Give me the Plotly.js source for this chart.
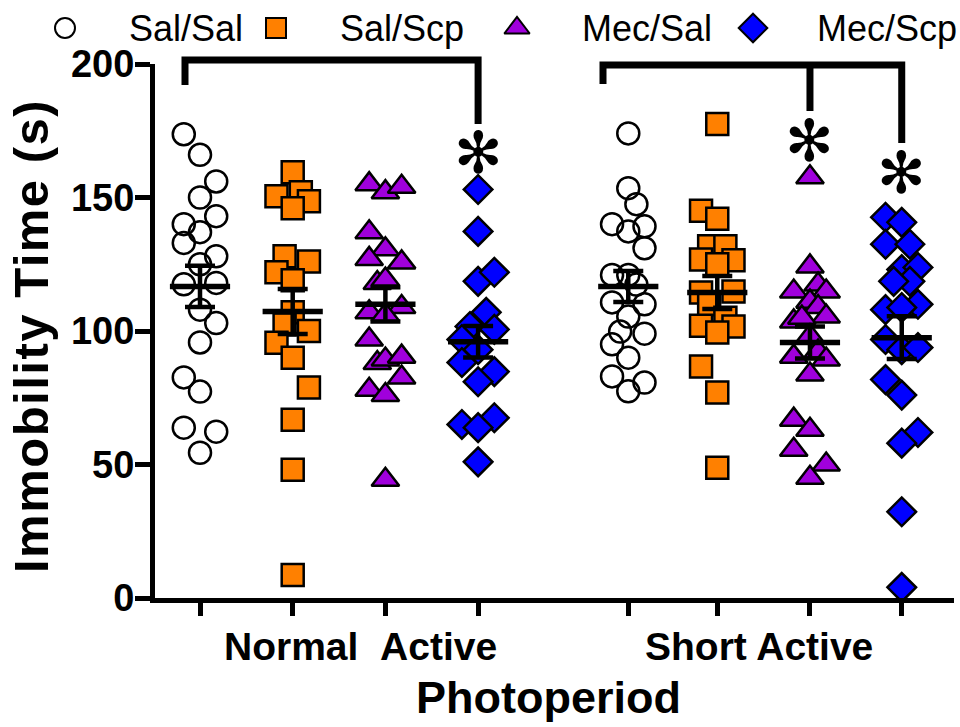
<!DOCTYPE html>
<html><head><meta charset="utf-8">
<script src="https://cdn.plot.ly/plotly-3.0.1.min.js"></script>
<style>html,body{margin:0;padding:0;background:#fff}#chart{width:960px;height:727px}</style>
</head><body><div id="chart"></div>
<script>
// ---------------- data ----------------
const photoperiodLabels = ['Normal\u00a0\u00a0Active', 'Short Active'];
const seriesNames = ['Sal/Sal', 'Sal/Scp', 'Mec/Sal', 'Mec/Scp'];
const yTickValues = [0, 50, 100, 150, 200];

// Sal/Sal
const salSalNormal    = [173.7,166,156,150,143,140,137,133,128,125,117.5,118,108,103,95.7,82.6,77.3,63.8,62.3,54.4];
const salSalNormalCol = [-1,0,1,0,1,-1,0,-1,1,0,-1,1,0,1,0,-1,0,-1,1,0];
const salSalShort     = [174,153.5,147.5,140,139.2,137.3,131,121,121,117.4,110.7,110,105.4,99.8,99,95,90,83,80.7,77.4];
const salSalShortCol  = [0,0,0.5,-1,1,0,1,-1,0,0.5,-1,1,0,-0.5,1,-1,0,-1,1,0];
// Sal/Scp
const salScpNormal    = [159.5,150.5,152,148.6,146,128,126,122,119,107,102.4,100,95.6,90,78.8,66.8,48,8.6];
const salScpNormalCol = [0,-1,0.5,1,0,-0.5,1,-1,0,0,-0.5,1,-1,0,1,0,0,0];
const salScpShort     = [177.5,145,142,131.7,131.7,126.8,126.5,125,114.4,114.8,110,105,102,101.7,99.4,86.7,77,48.8];
const salScpShortCol  = [0,-1,0,-0.5,0.5,-1,1,0,-1,1,-0.5,0.5,-1,1,0,-1,0,0];
// Mec/Sal
const mecSalNormal    = [155,152,154,137,130.6,127,125.7,118,119.3,109,107,106,96.8,88,89.3,90.4,82.6,78,76,44.3];
const mecSalNormalCol = [-1,0,1,-1,0,-1,1,-0.5,0,1,-1,0,-1,-0.5,0,1,1,-1,0,0];
const mecSalShort     = [157.6,124.2,117.4,114.8,114.8,111,109,105.4,103.6,105,98,90.4,92.3,89.3,83.7,66.8,63,55.5,50,45];
const mecSalShortCol  = [0,0,0.5,-1,1,0,0.5,1,-1,-0.5,0,-1,0.5,1,0,-1,0,-1,1,0];
// Mec/Scp
const mecScpNormal    = [153,137.3,118.6,122,107,101.7,100.6,96.8,93,88.2,84.8,81,67.5,65,63.8,51];
const mecScpNormalCol = [0,0,0,1,0.5,-0.5,1,-1,0,-1,1,0,1,-1,0,0];
const mecScpShort     = [142.6,140.7,132.5,132.5,123,123.8,118.6,118.6,108,110,108.8,96.8,93,93.8,81.8,76,62,58,32.3,4];
const mecScpShortCol  = [-1,0,-1,0.5,0,1,0.5,-0.5,-1,1,0,-1,0,1,-1,0,1,0,0,0];

// group order: NA Sal/Sal, NA Sal/Scp, NA Mec/Sal, NA Mec/Scp, SA Sal/Sal, SA Sal/Scp, SA Mec/Sal, SA Mec/Scp
const groupMeans = [116.7,107.3,110,96,116.7,114.4,95.7,97.5];
const groupSEMs  = [7.7,8.4,6.4,5.9,5.8,6.2,6.0,8.0];
const significantGroups = [3,6,7];
const asteriskValues = [166.5,171,159];

// ---------------- layout constants ----------------
const W = 960, H = 727;
const groupPositions = [0,1,2,3,4.62,5.58,6.58,7.57];
const jitterStep = 0.175;
const px = v => v / W;            // pixel x -> paper
const py = v => 1 - v / H;        // pixel y -> paper
const FONT = 'Liberation Sans, Arial, sans-serif';

const seriesData = [
  [salSalNormal, salSalNormalCol, salSalShort, salSalShortCol],
  [salScpNormal, salScpNormalCol, salScpShort, salScpShortCol],
  [mecSalNormal, mecSalNormalCol, mecSalShort, mecSalShortCol],
  [mecScpNormal, mecScpNormalCol, mecScpShort, mecScpShortCol]
];
const markerStyles = [
  {symbol:'circle', size:22, color:'rgba(0,0,0,0)', line:{color:'#000', width:2.5}},
  {symbol:'square', size:22, color:'#ff8000', line:{color:'#000', width:2.5}},
  {symbol:'triangle-up', size:24, color:'#a000dc', line:{color:'#000', width:2.5}},
  {symbol:'diamond', size:22, color:'#0000ff', line:{color:'#000', width:2.5}}
];

const traces = [];
seriesData.forEach((d, s) => {
  const [nVals, nCol, sVals, sCol] = d;
  const xs = nCol.map(c => groupPositions[s] + c * jitterStep)
    .concat(sCol.map(c => groupPositions[s + 4] + c * jitterStep));
  traces.push({
    type:'scatter', mode:'markers', name:seriesNames[s], showlegend:false,
    x: xs, y: nVals.concat(sVals), marker: markerStyles[s], cliponaxis:false,
    xaxis:'x', yaxis:'y'
  });
});
// mean ± SEM
traces.push({
  type:'scatter', mode:'markers', showlegend:false, cliponaxis:false,
  x: groupPositions, y: groupMeans,
  marker:{symbol:'line-ew', size:43, line:{color:'#000', width:5.5}},
  error_y:{type:'data', array:groupSEMs, visible:true, color:'#000', thickness:4.5, width:15}
});
// legend keys (manual legend on overlay axis in pixel units)
const legendKeyX = [65, 276, 517, 753];
const legendTextX = [127, 338, 580, 815];
seriesNames.forEach((n, s) => {
  const m = Object.assign({}, markerStyles[s]);
  m.size = s === 3 ? 22 : (s === 2 ? 22 : 20);
  m.line = {color:'#000', width:2};
  traces.push({type:'scatter', mode:'markers', showlegend:false, x:[legendKeyX[s]], y:[28],
    marker:m, xaxis:'x2', yaxis:'y2', cliponaxis:false});
});

const annotations = [];
seriesNames.forEach((n, s) => annotations.push({
  xref:'paper', yref:'paper', x:px(legendTextX[s]), y:py(29), xanchor:'left', yanchor:'middle',
  text:n, showarrow:false, font:{family:FONT, size:36, color:'#000'}
}));
annotations.push({xref:'paper', yref:'paper', x:px(360), y:py(646), xanchor:'center', yanchor:'middle',
  text:'<b>'+photoperiodLabels[0]+'</b>', showarrow:false, font:{family:FONT, size:39, color:'#000'}});
annotations.push({xref:'paper', yref:'paper', x:px(759), y:py(646), xanchor:'center', yanchor:'middle',
  text:'<b>'+photoperiodLabels[1]+'</b>', showarrow:false, font:{family:FONT, size:39, color:'#000'}});
annotations.push({xref:'paper', yref:'paper', x:px(548), y:py(697), xanchor:'center', yanchor:'middle',
  text:'<b>Photoperiod</b>', showarrow:false, font:{family:FONT, size:45, color:'#000'}});
annotations.push({xref:'paper', yref:'paper', x:px(31), y:py(336), xanchor:'center', yanchor:'middle', textangle:-90,
  text:'<b><span style="letter-spacing:1.5px">Immobility Time (s)</span></b>', showarrow:false,
  font:{family:FONT, size:49, color:'#000'}});
significantGroups.forEach((g, i) => annotations.push({
  xref:'x', yref:'y', x:groupPositions[g], y:asteriskValues[i], xanchor:'center', yanchor:'middle',
  text:'\u273B', showarrow:false, font:{family:'DejaVu Sans', size:58, color:'#000'}
}));

// significance brackets (x in data units, y in paper units)
const bx = v => (v - 200) / 92.7;
const shapes = [
  {type:'path', xref:'x', yref:'paper', line:{color:'#000', width:7},
   path:`M${bx(185)},${py(85)} L${bx(185)},${py(60)} L${groupPositions[3]},${py(60)} L${groupPositions[3]},${py(124)}`},
  {type:'path', xref:'x', yref:'paper', line:{color:'#000', width:7},
   path:`M${bx(603)},${py(84)} L${bx(603)},${py(65)} L${groupPositions[7]},${py(65)} L${groupPositions[7]},${py(143)}`},
  {type:'path', xref:'x', yref:'paper', line:{color:'#000', width:7},
   path:`M${groupPositions[6]},${py(65)} L${groupPositions[6]},${py(111)}`}
];

const xMin = bx(155), xMax = bx(954);
const layout = {
  width:W, height:H, margin:{l:0, r:0, t:0, b:0}, paper_bgcolor:'#fff', plot_bgcolor:'#fff',
  showlegend:false,
  xaxis:{domain:[px(155), px(954)], range:[xMin, xMax], anchor:'y', showgrid:false, zeroline:false,
    showline:true, linewidth:5, linecolor:'#000', ticks:'outside', ticklen:13, tickwidth:5, tickcolor:'#000',
    tickmode:'array', tickvals:groupPositions, showticklabels:false, fixedrange:true},
  yaxis:{domain:[py(598), py(64)], range:[0, 200], anchor:'x', showgrid:false, zeroline:false,
    showline:true, linewidth:5, linecolor:'#000', ticks:'outside', ticklen:15, tickwidth:5, tickcolor:'#000',
    tickmode:'array', tickvals:yTickValues, ticklabelstandoff:-7,
    tickfont:{family:FONT, size:38, color:'#000', weight:'bold'}, fixedrange:true},
  xaxis2:{domain:[0,1], range:[0, W], anchor:'y2', visible:false, fixedrange:true},
  yaxis2:{domain:[py(56), 1], range:[56, 0], anchor:'x2', visible:false, fixedrange:true},
  annotations: annotations,
  shapes: shapes
};
Plotly.newPlot('chart', traces, layout, {displayModeBar:false, staticPlot:true});
</script></body></html>
